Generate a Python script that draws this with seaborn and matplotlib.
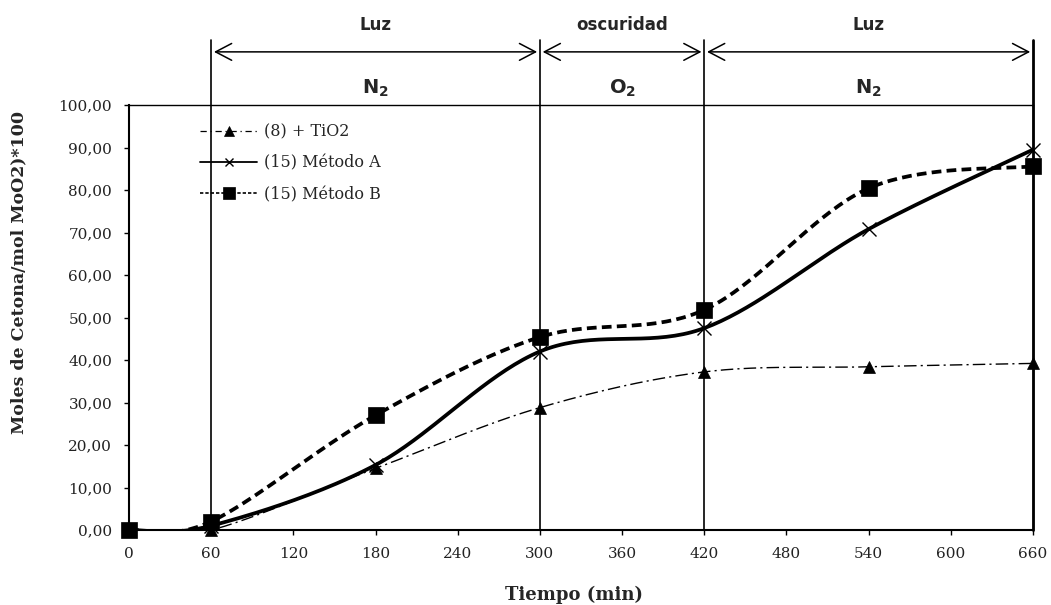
import numpy as np
import pandas as pd
import matplotlib
matplotlib.use("Agg")
import matplotlib.pyplot as plt
from matplotlib.lines import Line2D
import seaborn as sns

# ---------------- data ----------------
tiempo = [0, 60, 180, 300, 420, 540, 660]
tio2 = [0.0, 0.0, 14.5, 28.8, 37.2, 38.4, 39.2]
metodo_a = [0.0, 1.0, 15.3, 42.0, 47.5, 70.8, 89.5]
metodo_b = [0.0, 2.0, 27.0, 45.4, 51.8, 80.4, 85.6]
series_names = ["(8) + TiO2", "(15) Método A", "(15) Método B"]
x_ticks = [0, 60, 120, 180, 240, 300, 360, 420, 480, 540, 600, 660]
y_ticks = [0, 10, 20, 30, 40, 50, 60, 70, 80, 90, 100]
phase_bounds = [60, 300, 420, 660]
phase_top = ["Luz", "oscuridad", "Luz"]
phase_gas = [r"$\mathbf{N_2}$", r"$\mathbf{O_2}$", r"$\mathbf{N_2}$"]


def smooth(xs, ys, n=40):
    """Excel-like smoothed line (Catmull-Rom Bezier)."""
    P = np.column_stack([xs, ys]).astype(float)
    Pe = np.vstack([P[0], P, P[-1]])
    out = []
    t = np.linspace(0, 1, n)[:, None]
    for i in range(len(P) - 1):
        p0, p1, p2, p3 = Pe[i], Pe[i + 1], Pe[i + 2], Pe[i + 3]
        c1 = p1 + (p2 - p0) / 6.0
        c2 = p2 - (p3 - p1) / 6.0
        seg = ((1 - t) ** 3) * p1 + 3 * ((1 - t) ** 2) * t * c1 + 3 * (1 - t) * t ** 2 * c2 + t ** 3 * p2
        out.append(seg if i == 0 else seg[1:])
    s = np.vstack(out)
    return s[:, 0], s[:, 1]


sns.set_theme(style="white")
plt.rcParams["font.family"] = ["DejaVu Serif"]
plt.rcParams["font.size"] = 11

fig = plt.figure(figsize=(10.51, 6.05), dpi=100)
ax = fig.add_axes([129 / 1051, 1 - 530 / 605, 904 / 1051, 425 / 605])

styles = [
    dict(ls=(0, (9, 3, 1.5, 3)), lw=1.0, marker="^", ms=8.5, mew=0.5),
    dict(ls="-", lw=2.7, marker="x", ms=9.5, mew=1.0),
    dict(ls=(0, (2.6, 1.4)), lw=2.7, marker="s", ms=11.5, mew=0.5),
]
all_vals = [tio2, metodo_a, metodo_b]

for name, vals, st in zip(series_names, all_vals, styles):
    sx, sy = smooth(tiempo, vals)
    df = pd.DataFrame({"x": sx, "y": sy})
    sns.lineplot(data=df, x="x", y="y", ax=ax, sort=False, estimator=None,
                 color="black", lw=st["lw"])
    ax.lines[-1].set_linestyle(st["ls"])
    ax.plot(tiempo, vals, linestyle="none", marker=st["marker"], ms=st["ms"],
            color="black", mew=st["mew"], zorder=4, clip_on=False)

# vertical phase lines extending above the axes
for xb in phase_bounds:
    ax.plot([xb, xb], [0, 115.3], color="black", lw=2.0 if xb == 660 else 1.2,
            clip_on=False, zorder=3)

for i in range(3):
    x0, x1 = phase_bounds[i], phase_bounds[i + 1]
    ax.annotate("", xy=(x1, 112.5), xytext=(x0, 112.5), annotation_clip=False,
                arrowprops=dict(arrowstyle="<->,head_length=1.05,head_width=0.55",
                                lw=1.1, color="black", shrinkA=2, shrinkB=2))
    xm = (x0 + x1) / 2
    ax.text(xm, 118.8, phase_top[i], ha="center", va="center", fontsize=12,
            fontweight="bold", family="DejaVu Sans", clip_on=False)
    ax.text(xm, 104.0, phase_gas[i], ha="center", va="center", fontsize=14,
            clip_on=False)

ax.set_xlim(0, 660)
ax.set_ylim(0, 100)
ax.set_xticks(x_ticks)
ax.set_xticklabels([str(v) for v in x_ticks])
ax.set_yticks(y_ticks)
ax.set_yticklabels([f"{v:.2f}".replace(".", ",") for v in y_ticks])
ax.tick_params(axis="both", direction="out", length=3.6, width=1, color="black",
               labelsize=11, labelcolor="#222222", pad=8.5, left=True, bottom=True)
for sp in ax.spines.values():
    sp.set_color("black")
    sp.set_linewidth(1.0)
ax.spines["left"].set_linewidth(1.5)
ax.spines["bottom"].set_linewidth(1.5)

ax.set_xlabel("Tiempo (min)", fontweight="bold", fontsize=13)
ax.set_ylabel("Moles de Cetona/mol MoO2)*100", fontweight="bold", fontsize=12.5)
ax.xaxis.set_label_coords(0.492, -0.130)
ax.yaxis.set_label_coords(-0.112, 0.605)

handles = []
leg_ls = [(0, (5, 3, 1, 3)), "-", (0, (2, 1.2))]
leg_lw = [0.9, 1.3, 1.2]
leg_ms = [7, 6, 8]
for st, ls, lw, ms in zip(styles, leg_ls, leg_lw, leg_ms):
    handles.append(Line2D([0], [0], color="black", lw=lw, linestyle=ls,
                          marker=st["marker"], ms=ms, mew=st["mew"]))
ax.legend(handles, series_names, loc="upper left", bbox_to_anchor=(0.0785, 0.957),
          frameon=False, borderpad=0, borderaxespad=0, handlelength=3.6,
          handletextpad=0.4, labelspacing=0.9, fontsize=11.5)

fig.savefig("out.png", dpi=100)
